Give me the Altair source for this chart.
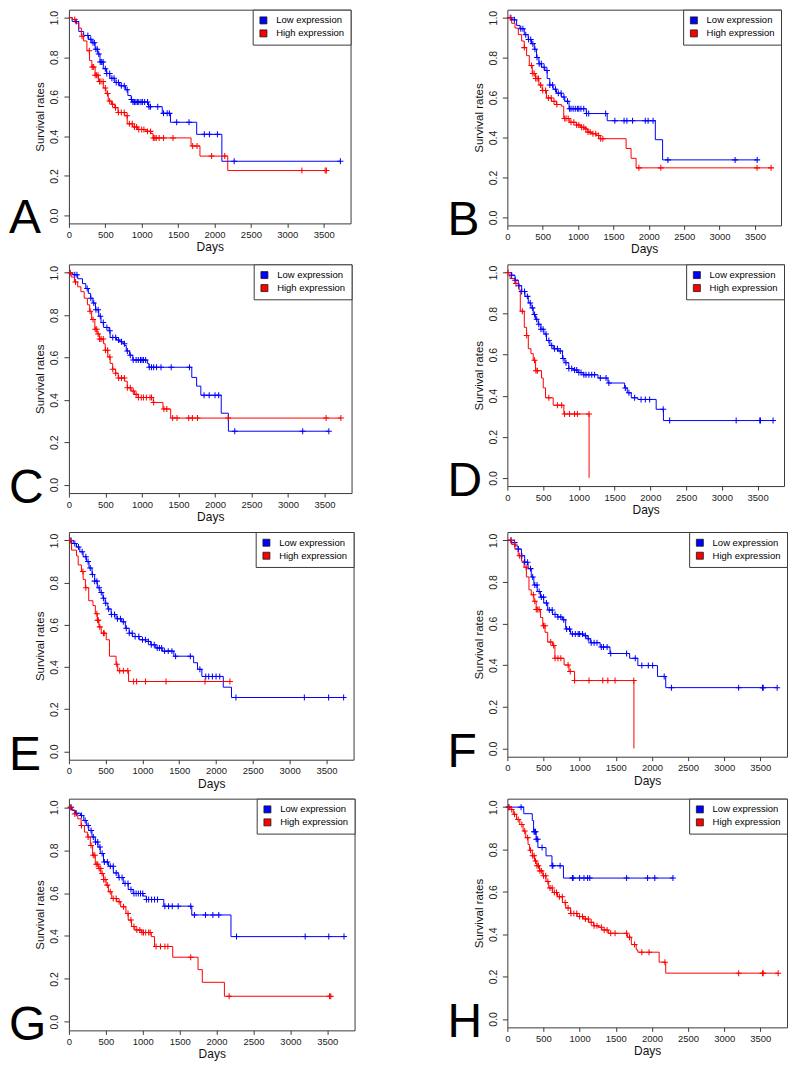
import altair as alt
import pandas as pd

FONT = "Liberation Sans"
GROUPS = ["Low expression", "High expression"]
COLORS = ["#0000FF", "#FF0000"]
X_TICKS = [0, 500, 1000, 1500, 2000, 2500, 3000, 3500]
Y_TICKS = [0.0, 0.2, 0.4, 0.6, 0.8, 1.0]
X_MAX = 3869

# ---- Panel A ----
A_low = [(0, 1.0), (45, 0.98), (135, 0.93), (202, 0.91), (270, 0.89), (315, 0.873), (360, 0.84), (396, 0.816),
         (427, 0.775), (472, 0.742), (517, 0.718), (562, 0.693), (630, 0.672), (697, 0.655), (778, 0.635),
         (810, 0.606), (855, 0.586), (877, 0.573), (1093, 0.55), (1282, 0.516), (1395, 0.471), (1755, 0.41),
         (2101, 0.274), (3729, 0.274)]
A_low_cens = [100, 260, 300, 330, 350, 370, 390, 410, 430, 450, 470, 500, 520, 560, 590, 620, 650, 680, 720, 760,
              800, 860, 880, 900, 920, 940, 960, 990, 1010, 1040, 1080, 1100, 1120, 1220, 1300, 1350, 1380, 1480,
              1650, 1860, 1930, 2040, 2270, 3729]
A_high = [(0, 1.0), (45, 0.99), (90, 0.972), (135, 0.947), (171, 0.906), (202, 0.882), (247, 0.833), (283, 0.783),
          (315, 0.75), (360, 0.709), (405, 0.677), (472, 0.644), (508, 0.616), (540, 0.578), (585, 0.562),
          (630, 0.545), (675, 0.52), (765, 0.504), (801, 0.463), (877, 0.447), (945, 0.435), (1057, 0.425),
          (1125, 0.414), (1156, 0.392), (1678, 0.351), (1800, 0.30), (2182, 0.227), (3537, 0.227)]
A_high_cens = [80, 180, 280, 320, 340, 360, 380, 400, 420, 440, 470, 500, 530, 560, 600, 640, 680, 720, 760, 800,
               830, 870, 900, 930, 960, 1000, 1030, 1080, 1120, 1160, 1180, 1200, 1240, 1300, 1430, 1700, 1760,
               1960, 2140, 3200, 3520, 3537]

# ---- Panel B ----
B_low = [(0, 1.0), (61, 0.989), (131, 0.961), (178, 0.945), (239, 0.915), (295, 0.891), (342, 0.87), (380, 0.842),
         (413, 0.801), (446, 0.769), (483, 0.752), (530, 0.736), (563, 0.695), (600, 0.663), (647, 0.642),
         (694, 0.622), (764, 0.603), (811, 0.581), (872, 0.544), (1116, 0.52), (1412, 0.484), (2092, 0.389),
         (2195, 0.288), (3532, 0.288)]
B_low_cens = [50, 100, 190, 220, 260, 300, 330, 360, 390, 420, 450, 480, 520, 560, 600, 640, 680, 720, 760, 800,
              850, 880, 900, 930, 960, 990, 1010, 1040, 1080, 1120, 1150, 1390, 1520, 1650, 1690, 1770, 1950,
              1990, 2060, 2270, 3220, 3532]
B_high = [(0, 1.0), (61, 0.972), (108, 0.948), (155, 0.915), (202, 0.883), (239, 0.85), (272, 0.81), (310, 0.76),
          (352, 0.72), (399, 0.695), (446, 0.663), (492, 0.635), (553, 0.598), (624, 0.581), (694, 0.565),
          (764, 0.557), (797, 0.495), (882, 0.476), (976, 0.463), (1036, 0.451), (1093, 0.443), (1140, 0.427),
          (1187, 0.419), (1257, 0.41), (1294, 0.394), (1679, 0.345), (1749, 0.296), (1820, 0.248), (3729, 0.248)]
B_high_cens = [40, 240, 340, 360, 380, 400, 420, 440, 470, 500, 540, 580, 620, 660, 700, 810, 830, 860, 900, 940,
               980, 1010, 1050, 1080, 1110, 1140, 1170, 1210, 1250, 1290, 1320, 1350, 1860, 2170, 3530, 3729]

# ---- Panel C ----
C_low = [(0, 1.0), (53, 0.991), (120, 0.972), (186, 0.949), (231, 0.926), (266, 0.903), (297, 0.88), (328, 0.857),
         (364, 0.826), (408, 0.795), (439, 0.765), (475, 0.742), (550, 0.726), (564, 0.695), (652, 0.683),
         (697, 0.675), (741, 0.665), (763, 0.657), (785, 0.631), (830, 0.611), (874, 0.588), (1074, 0.572),
         (1096, 0.554), (1682, 0.506), (1748, 0.465), (1806, 0.422), (2085, 0.337), (2183, 0.252), (3558, 0.252)]
C_low_cens = [80, 110, 250, 300, 340, 370, 400, 430, 470, 520, 560, 600, 640, 680, 720, 760, 800, 840, 880, 920,
              950, 980, 1000, 1020, 1050, 1100, 1130, 1160, 1200, 1260, 1400, 1650, 1850, 1920, 2000, 2050, 2270,
              3200, 3558]
C_high = [(0, 1.0), (31, 0.98), (75, 0.957), (120, 0.934), (164, 0.911), (209, 0.88), (253, 0.849), (284, 0.818),
          (311, 0.78), (355, 0.734), (386, 0.711), (417, 0.688), (475, 0.665), (497, 0.634), (532, 0.603),
          (564, 0.572), (599, 0.545), (639, 0.526), (674, 0.503), (763, 0.488), (799, 0.457), (852, 0.442),
          (896, 0.426), (950, 0.411), (1154, 0.388), (1287, 0.357), (1393, 0.314), (3723, 0.314)]
C_high_cens = [20, 90, 290, 330, 360, 380, 400, 420, 440, 470, 500, 530, 560, 600, 640, 680, 720, 760, 800, 840,
               880, 920, 950, 990, 1020, 1060, 1110, 1130, 1160, 1300, 1340, 1420, 1480, 1640, 1690, 1760, 2180,
               3520, 3723]

# ---- Panel D ----
D_low = [(0, 1.0), (60, 0.987), (107, 0.963), (153, 0.936), (200, 0.908), (246, 0.884), (293, 0.852), (330, 0.828),
         (362, 0.796), (395, 0.772), (432, 0.748), (469, 0.724), (511, 0.701), (548, 0.669), (595, 0.645),
         (641, 0.629), (711, 0.618), (771, 0.581), (804, 0.561), (859, 0.533), (920, 0.525), (989, 0.513),
         (1059, 0.502), (1268, 0.486), (1407, 0.462), (1640, 0.438), (1677, 0.414), (1733, 0.39), (1825, 0.382),
         (2081, 0.334), (2183, 0.279), (3716, 0.279)]
D_low_cens = [60, 110, 160, 200, 240, 280, 320, 350, 380, 410, 440, 470, 500, 540, 580, 620, 660, 700, 740, 780,
              820, 860, 900, 940, 970, 1000, 1030, 1070, 1100, 1140, 1180, 1220, 1300, 1380, 1420, 1650, 1700,
              1780, 1870, 1930, 1990, 2180, 2270, 3200, 3530, 3540, 3716]
D_high = [(0, 1.0), (37, 0.971), (107, 0.947), (163, 0.916), (181, 0.812), (237, 0.733), (269, 0.693), (293, 0.629),
          (330, 0.605), (362, 0.573), (395, 0.522), (478, 0.486), (502, 0.438), (534, 0.39), (641, 0.354),
          (790, 0.311), (1143, 0.0)]
D_high_cens = [10, 120, 210, 270, 380, 400, 420, 580, 700, 760, 800, 870, 940, 980, 1142]

# ---- Panel E ----
E_low = [(0, 1.0), (58, 0.985), (103, 0.969), (148, 0.946), (193, 0.923), (238, 0.9), (273, 0.869), (314, 0.838),
         (350, 0.807), (386, 0.776), (421, 0.753), (462, 0.726), (493, 0.702), (529, 0.675), (574, 0.649),
         (641, 0.629), (717, 0.614), (767, 0.583), (820, 0.56), (865, 0.544), (955, 0.529), (1045, 0.521),
         (1112, 0.505), (1179, 0.49), (1269, 0.475), (1426, 0.451), (1695, 0.42), (1748, 0.389), (1807, 0.355),
         (2098, 0.304), (2210, 0.255), (3734, 0.255)]
E_low_cens = [30, 80, 130, 180, 230, 260, 290, 320, 350, 380, 410, 440, 470, 500, 540, 580, 620, 660, 700, 740,
              780, 820, 860, 900, 950, 1000, 1040, 1080, 1120, 1160, 1200, 1230, 1260, 1300, 1350, 1400, 1450,
              1650, 1780, 1860, 1900, 1950, 2000, 2050, 2270, 3200, 3530, 3734]
E_high = [(0, 1.0), (36, 0.954), (103, 0.927), (126, 0.884), (170, 0.853), (193, 0.815), (224, 0.776), (269, 0.714),
          (327, 0.691), (359, 0.652), (386, 0.621), (408, 0.59), (439, 0.56), (507, 0.529), (551, 0.451),
          (641, 0.413), (663, 0.382), (811, 0.331), (2188, 0.331)]
E_high_cens = [20, 190, 230, 380, 390, 400, 420, 470, 480, 650, 690, 740, 800, 880, 920, 1040, 1320, 1850, 2188]

# ---- Panel F ----
F_low = [(0, 1.0), (59, 0.989), (104, 0.973), (150, 0.958), (195, 0.926), (240, 0.895), (286, 0.864), (331, 0.824),
         (367, 0.785), (413, 0.754), (458, 0.727), (503, 0.699), (558, 0.665), (626, 0.644), (694, 0.632),
         (762, 0.618), (807, 0.574), (875, 0.55), (1057, 0.542), (1102, 0.527), (1148, 0.508), (1284, 0.487),
         (1420, 0.456), (1692, 0.433), (1805, 0.398), (2077, 0.346), (2191, 0.292), (3733, 0.292)]
F_low_cens = [50, 100, 150, 200, 240, 280, 320, 350, 380, 410, 440, 470, 500, 540, 580, 620, 660, 700, 740, 780,
              820, 860, 900, 940, 980, 1000, 1040, 1080, 1120, 1160, 1200, 1240, 1300, 1330, 1380, 1430, 1650,
              1770, 1860, 1950, 2010, 2170, 2270, 3200, 3530, 3540, 3733]
F_high = [(0, 1.0), (59, 0.981), (104, 0.958), (150, 0.926), (195, 0.9), (231, 0.871), (263, 0.824), (299, 0.762),
          (331, 0.738), (367, 0.707), (399, 0.668), (458, 0.629), (490, 0.589), (521, 0.558), (558, 0.511),
          (626, 0.495), (658, 0.433), (785, 0.401), (853, 0.37), (930, 0.326), (1751, 0.0)]
F_high_cens = [50, 100, 170, 260, 360, 380, 400, 420, 440, 500, 520, 600, 640, 660, 700, 740, 840, 870, 930, 1130,
               1320, 1390, 1490, 1749]

# ---- Panel G ----
G_low = [(0, 1.0), (45, 0.985), (89, 0.972), (156, 0.961), (201, 0.938), (236, 0.915), (268, 0.892), (312, 0.861),
         (357, 0.838), (393, 0.815), (424, 0.784), (469, 0.745), (535, 0.725), (602, 0.694), (669, 0.672),
         (736, 0.645), (803, 0.617), (870, 0.598), (1004, 0.586), (1049, 0.57), (1285, 0.539), (1664, 0.498),
         (2195, 0.397), (3726, 0.397)]
G_low_cens = [30, 100, 170, 220, 260, 300, 330, 360, 390, 420, 450, 480, 520, 560, 600, 640, 680, 720, 760, 800,
              840, 880, 910, 940, 970, 1000, 1050, 1080, 1120, 1160, 1200, 1300, 1350, 1400, 1480, 1650, 1700,
              1850, 1950, 2030, 2270, 3200, 3520, 3726]
G_high = [(0, 1.0), (31, 0.988), (76, 0.969), (120, 0.946), (165, 0.915), (210, 0.884), (254, 0.861), (290, 0.822),
          (321, 0.776), (357, 0.734), (402, 0.714), (433, 0.691), (469, 0.663), (504, 0.637), (535, 0.606),
          (580, 0.575), (647, 0.56), (701, 0.536), (772, 0.505), (803, 0.474), (848, 0.444), (892, 0.428),
          (982, 0.416), (1116, 0.397), (1160, 0.351), (1406, 0.301), (1749, 0.243), (1807, 0.184), (2106, 0.119),
          (3547, 0.119)]
G_high_cens = [20, 80, 170, 260, 300, 330, 350, 370, 390, 410, 430, 450, 470, 490, 520, 560, 600, 640, 680, 740,
               800, 840, 880, 920, 960, 990, 1010, 1040, 1080, 1100, 1180, 1240, 1300, 1340, 1650, 2170, 3530, 3547]

# ---- Panel H ----
H_low = [(0, 1.0), (227, 0.969), (345, 0.937), (363, 0.884), (399, 0.848), (422, 0.809), (535, 0.77), (617, 0.723),
         (776, 0.665), (2291, 0.665)]
H_low_cens = [20, 190, 370, 380, 390, 400, 420, 480, 620, 630, 730, 900, 910, 1000, 1060, 1110, 1140, 1650, 1940,
              2040, 2291]
H_high = [(0, 1.0), (36, 0.989), (82, 0.966), (127, 0.942), (172, 0.918), (218, 0.887), (254, 0.856), (286, 0.824),
          (308, 0.796), (345, 0.77), (376, 0.746), (408, 0.723), (445, 0.699), (490, 0.676), (535, 0.649),
          (572, 0.618), (626, 0.597), (694, 0.577), (762, 0.55), (807, 0.524), (875, 0.498), (966, 0.483),
          (1057, 0.472), (1125, 0.456), (1193, 0.44), (1261, 0.433), (1306, 0.42), (1397, 0.404), (1660, 0.386),
          (1715, 0.351), (1783, 0.326), (1805, 0.315), (2100, 0.268), (2191, 0.216), (3747, 0.216)]
H_high_cens = [20, 60, 100, 150, 200, 240, 280, 320, 350, 370, 390, 410, 430, 450, 470, 500, 530, 560, 590, 620,
               650, 680, 720, 760, 800, 840, 880, 920, 960, 1000, 1040, 1080, 1120, 1160, 1200, 1240, 1300, 1340,
               1380, 1430, 1490, 1650, 1690, 1760, 1860, 1960, 2180, 3200, 3530, 3540, 3747]

# filled "+" symbol for censored observations
PLUS = "M-1,-0.17H-0.17V-1H0.17V-0.17H1V0.17H0.17V1H-0.17V0.17H-1Z"


def step_value(steps, t):
    v = steps[0][1]
    for ti, si in steps:
        if ti <= t:
            v = si
    return v


def panel(letter, low, low_c, high, high_c, w, h):
    rows, crow = [], []
    for name, st, cs in ((GROUPS[0], low, low_c), (GROUPS[1], high, high_c)):
        for t, s in st:
            rows.append({"day": t, "surv": s, "group": name})
        for c in cs:
            crow.append({"day": c, "surv": step_value(st, c), "group": name})
    lines = pd.DataFrame(rows)
    cens = pd.DataFrame(crow)

    x = alt.X("day:Q", scale=alt.Scale(domain=[0, X_MAX], nice=False, zero=False),
              axis=alt.Axis(values=X_TICKS, format="d", title="Days", labelFlush=False, grid=False))
    y = alt.Y("surv:Q", scale=alt.Scale(domain=[-0.04, 1.04], nice=False, zero=False),
              axis=alt.Axis(values=Y_TICKS, format=".1f", title="Survival rates", labelAngle=270,
                            labelAlign="center", labelBaseline="bottom", labelFlush=False, grid=False))
    cscale = alt.Scale(domain=GROUPS, range=COLORS)
    legend = alt.Legend(title=None, orient="top-right", offset=0, padding=6, strokeColor="#3a3a3a",
                        fillColor="white", symbolType="square", symbolSize=49, symbolStrokeColor="#1a1a1a",
                        symbolStrokeWidth=0.8, labelFont=FONT, labelFontSize=9.5, labelColor="black",
                        labelOffset=8, rowPadding=2)

    line_layer = alt.Chart(lines).mark_line(interpolate="step-after", strokeWidth=1).encode(
        x=x, y=y, color=alt.Color("group:N", scale=cscale, legend=None))
    pt_layer = alt.Chart(cens).mark_point(shape=PLUS, filled=True, size=36, opacity=1).encode(
        x=x, y=y, color=alt.Color("group:N", scale=cscale, legend=legend))
    letter_layer = alt.Chart(pd.DataFrame({"lab": [letter]})).mark_text(
        align="left", baseline="alphabetic", font=FONT, fontSize=48, color="black"
    ).encode(text="lab:N", x=alt.value(-60), y=alt.value(h + 10))

    return alt.layer(line_layer, pt_layer, letter_layer).resolve_legend(color="independent").properties(
        width=w, height=h)


pA = panel("A", A_low, A_low_cens, A_high, A_high_cens, 282, 214)
pB = panel("B", B_low, B_low_cens, B_high, B_high_cens, 274, 216)
pC = panel("C", C_low, C_low_cens, C_high, C_high_cens, 283, 229)
pD = panel("D", D_low, D_low_cens, D_high, D_high_cens, 277, 222)
pE = panel("E", E_low, E_low_cens, E_high, E_high_cens, 285, 228)
pF = panel("F", F_low, F_low_cens, F_high, F_high_cens, 280, 225)
pG = panel("G", G_low, G_low_cens, G_high, G_high_cens, 286, 232)
pH = panel("H", H_low, H_low_cens, H_high, H_high_cens, 280, 229)

row1 = alt.hconcat(pA, pB, spacing=95).resolve_scale(color="independent")
row2 = alt.hconcat(pC, pD, spacing=94).resolve_scale(color="independent")
row3 = alt.hconcat(pE, pF, spacing=92).resolve_scale(color="independent")
row4 = alt.hconcat(pG, pH, spacing=91).resolve_scale(color="independent")

chart = alt.vconcat(row1, row2, row3, row4, spacing=8).resolve_scale(color="independent").properties(
    padding=0, background="white"
).configure_view(stroke="#3a3a3a", strokeWidth=1).configure_axis(
    domain=False, grid=False, tickColor="#3a3a3a", labelColor="#222222", titleColor="#111111",
    labelFont=FONT, titleFont=FONT, titleFontWeight="normal"
).configure_axisX(
    tickSize=4, labelPadding=2, labelFontSize=9.5, titleFontSize=12, titlePadding=3
).configure_axisY(
    tickSize=5, labelPadding=4, labelFontSize=10.5, titleFontSize=11.5, titlePadding=4
)

chart.save("out.html", embed_options={"renderer": "svg", "actions": False})
